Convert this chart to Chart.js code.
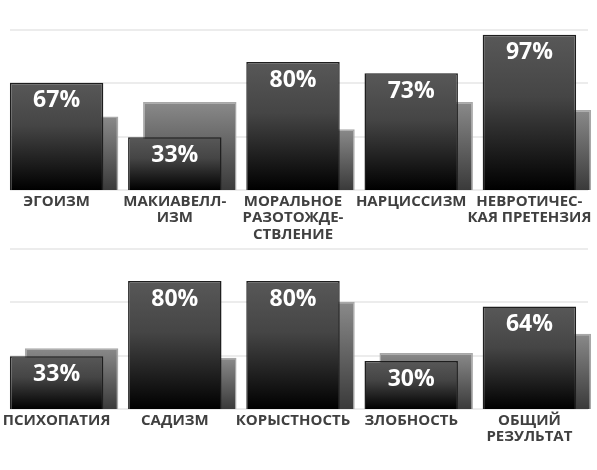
<!DOCTYPE html>
<html>
<head>
<meta charset="utf-8">
<script src="https://cdn.jsdelivr.net/npm/chart.js@4.4.1/dist/chart.umd.min.js"></script>
<style>
  html, body { margin: 0; padding: 0; background: #fff; }
  #wrap { position: relative; width: 597px; height: 470px; }
  .box { position: absolute; left: 0; width: 597px; }
  #topBox { top: 0; height: 245px; }
  #bottomBox { top: 245px; height: 225px; }
</style>
</head>
<body>
<div id="wrap">
  <div class="box" id="topBox"><canvas id="topChart"></canvas></div>
  <div class="box" id="bottomBox"><canvas id="bottomChart"></canvas></div>
</div>
<script>
// values, in percent
const topLabels = ['ЭГОИЗМ', ['МАКИАВЕЛЛ-', 'ИЗМ'], ['МОРАЛЬНОЕ', 'РАЗОТОЖДЕ-', 'СТВЛЕНИЕ'], 'НАРЦИССИЗМ', ['НЕВРОТИЧЕС-', 'КАЯ ПРЕТЕНЗИЯ']];
const topResult = [67, 33, 80, 73, 97];
const topAverage = [46, 55, 38, 55, 50];

const bottomLabels = ['ПСИХОПАТИЯ', 'САДИЗМ', 'КОРЫСТНОСТЬ', 'ЗЛОБНОСТЬ', ['ОБЩИЙ', 'РЕЗУЛЬТАТ']];
const bottomResult = [33, 80, 80, 30, 64];
const bottomAverage = [38, 32, 67, 35, 47];

const yMax = 100;
const yStep = 100 / 3;

function barGradient(stops, fallback) {
  return (context) => {
    const chart = context.chart;
    if (!chart.chartArea || context.parsed == null) {
      return fallback;
    }
    const y = chart.scales.y;
    const top = y.getPixelForValue(context.parsed.y);
    const bottom = y.getPixelForValue(0);
    const gradient = chart.ctx.createLinearGradient(0, top, 0, bottom);
    stops.forEach(([at, color]) => gradient.addColorStop(at, color));
    return gradient;
  };
}

const softGrid = {
  id: 'softGrid',
  beforeDatasetsDraw(chart) {
    const { ctx, chartArea, scales: { y } } = chart;
    ctx.save();
    ctx.strokeStyle = '#e6e6e6';
    ctx.lineWidth = 1.5;
    y.ticks.forEach(tick => {
      const py = Math.round(y.getPixelForValue(tick.value));
      ctx.beginPath();
      ctx.moveTo(chartArea.left + 5, py);
      ctx.lineTo(chartArea.right - 8, py);
      ctx.stroke();
    });
    ctx.restore();
  }
};

const percentLabels = {
  id: 'percentLabels',
  afterDatasetsDraw(chart) {
    const { ctx } = chart;
    const meta = chart.getDatasetMeta(0);
    const values = chart.data.datasets[0].data;
    ctx.save();
    ctx.fillStyle = '#ffffff';
    ctx.font = 'bold 23px "Open Sans"';
    ctx.textAlign = 'center';
    ctx.textBaseline = 'middle';
    meta.data.forEach((bar, i) => {
      ctx.fillText(`${values[i]}%`, bar.x, bar.y + 18);
    });
    ctx.restore();
  }
};

function buildChart(canvasId, labels, result, average, axisHeight, padTop) {
  return new Chart(document.getElementById(canvasId), {
    type: 'bar',
    data: {
      labels,
      datasets: [
        {
          data: result,
          backgroundColor: barGradient([[0, '#585858'], [0.4, '#454545'], [1, '#000000']], '#333'),
          borderColor: '#1e1e1e',
          borderWidth: 1.5,
          borderSkipped: 'bottom',
          categoryPercentage: 0.2538,
          barPercentage: 6.23
        },
        {
          data: average,
          backgroundColor: barGradient([[0, '#8a8a8a'], [1, '#3a3a3a']], '#666'),
          borderColor: '#a8a8a8',
          borderWidth: 1.5,
          borderSkipped: 'bottom',
          categoryPercentage: 0.2538,
          barPercentage: 6.23
        }
      ]
    },
    options: {
      responsive: true,
      maintainAspectRatio: false,
      animation: false,
      layout: { padding: { top: padTop, left: 5, right: 1, bottom: 0 } },
      plugins: { legend: { display: false }, tooltip: { enabled: false } },
      scales: {
        x: {
          grid: { display: false, drawTicks: false },
          border: { display: false },
          ticks: {
            color: '#404040',
            font: { family: '"Open Sans"', size: 15, weight: 'bold', lineHeight: 1.12 },
            padding: 3,
            labelOffset: -7.5,
            maxRotation: 0,
            autoSkip: false
          },
          afterFit: (scale) => {
            // labels may run past the plot edges, as in the original
            scale.height = axisHeight;
            scale.paddingLeft = 0;
            scale.paddingRight = 0;
          }
        },
        y: {
          display: false,
          min: 0,
          max: yMax,
          ticks: { stepSize: yStep }
        }
      }
    },
    plugins: [softGrid, percentLabels]
  });
}

buildChart('topChart', topLabels, topResult, topAverage, 55, 30);
buildChart('bottomChart', bottomLabels, bottomResult, bottomAverage, 61, 4);
</script>
</body>
</html>
